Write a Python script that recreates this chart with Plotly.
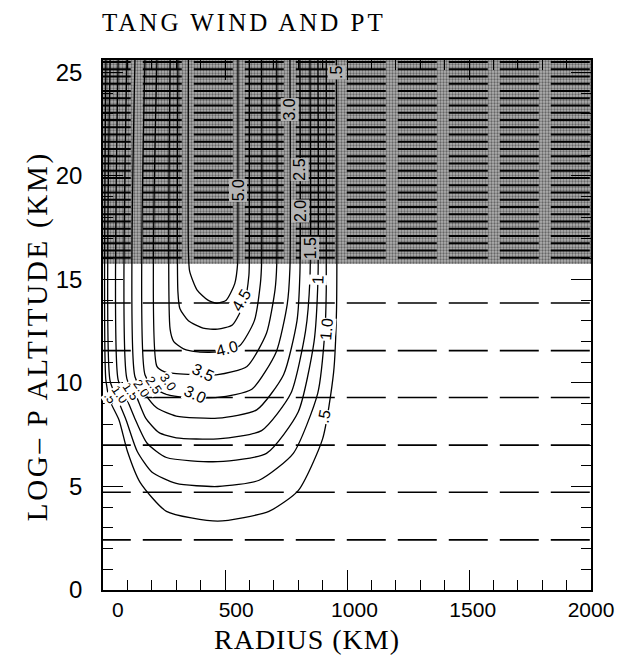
import plotly.graph_objects as go

# ---------------- data ----------------
TITLE = "TANG WIND AND PT"
X_TITLE = "RADIUS (KM)"
Y_TITLE = "LOG\u2013 P ALTITUDE (KM)"
X_TICKS = [0, 500, 1000, 1500, 2000]
Y_TICKS = [0, 5, 10, 15, 20, 25]
R_RANGE = [0, 2000]
R_LABEL_RANGE = [-63, 2000]   # tick labels sit slightly offset in the original
Z_RANGE = [0, 25.6]
TROPOPAUSE_KM = 15.75

# isentropes (potential temperature), heights in km
PT_TROPO = [2.42, 4.72, 7.0, 9.3, 11.56, 13.86]
PT_STRAT = [16.05, 16.4, 16.75, 17.1, 17.45, 17.8, 18.15, 18.5, 18.85, 19.2,
            19.55, 19.9, 20.25, 20.6, 20.95, 21.3, 21.65, 22.0, 22.35, 22.7,
            23.05, 23.4, 23.75, 24.1, 24.45, 24.8, 25.15, 25.5]

# tangential wind contours (radius km, altitude km), outer (0.5) to inner (5.0)
W05_R = [12, 12, 30, 66, 100, 152, 260, 470, 680, 800, 900, 945, 957, 957]
W05_Z = [25.6, 10.1, 9.1, 8.2, 6.7, 5.2, 3.8, 3.33, 3.8, 4.8, 7.3, 10.5, 13.5, 25.6]
W10_R = [29, 29, 60, 95, 140, 200, 300, 470, 640, 780, 880, 910, 915, 915]
W10_Z = [25.6, 10.1, 9.2, 8.2, 6.7, 5.7, 5.15, 5.0, 5.3, 6.6, 9.5, 12.6, 14.5, 25.6]
W15_R = [62, 62, 95, 130, 180, 260, 470, 670, 800, 865, 881, 881]
W15_Z = [25.6, 10.15, 9.3, 8.3, 7.1, 6.4, 6.2, 6.6, 8.6, 12.0, 15.0, 25.6]
W20_R = [98, 98, 135, 175, 230, 300, 470, 650, 770, 830, 848, 848]
W20_Z = [25.6, 10.2, 9.4, 8.3, 7.6, 7.35, 7.3, 7.7, 9.5, 12.5, 15.0, 25.6]
W25_R = [131, 131, 170, 220, 300, 470, 630, 740, 795, 807, 807]
W25_Z = [25.6, 10.3, 9.5, 8.8, 8.4, 8.3, 8.7, 10.4, 13.0, 15.3, 25.6]
W30_R = [172, 172, 210, 260, 340, 470, 610, 710, 755, 766, 766]
W30_Z = [25.6, 10.4, 9.75, 9.45, 9.3, 9.3, 9.7, 11.5, 13.8, 15.5, 25.6]
W35_R = [221, 221, 250, 300, 370, 470, 590, 670, 705, 712, 712]
W35_Z = [25.6, 10.8, 10.55, 10.45, 10.4, 10.4, 10.8, 12.4, 14.5, 15.7, 25.6]
W40_R = [275, 275, 290, 330, 390, 470, 560, 620, 645, 650, 650]
W40_Z = [25.6, 12.6, 12.0, 11.65, 11.5, 11.5, 11.8, 13.0, 14.8, 15.8, 25.6]
W45_R = [307, 307, 315, 350, 410, 470, 530, 580, 598, 600, 600]
W45_Z = [25.6, 14.4, 13.6, 13.0, 12.65, 12.6, 12.8, 13.9, 15.2, 16.2, 25.6]
W50_R = [350, 350, 355, 385, 430, 467, 505, 540, 552, 553, 553]
W50_Z = [25.6, 16.4, 15.4, 14.5, 14.0, 13.85, 14.0, 14.8, 15.8, 16.8, 25.6]

CONTOURS = [(W05_R, W05_Z), (W10_R, W10_Z), (W15_R, W15_Z), (W20_R, W20_Z),
            (W25_R, W25_Z), (W30_R, W30_Z), (W35_R, W35_Z), (W40_R, W40_Z),
            (W45_R, W45_Z), (W50_R, W50_Z)]

# contour labels: text, radius, altitude, angle
LBL_TEXT = ["5.0", "3.0", "2.5", "2.0", "1.5", ".5", "4.5", "4.0", "3.5",
            "3.0", "1.0", ".5", "1"]
LBL_R = [553, 766, 807, 807, 848, 957, 565, 510, 410, 378, 915, 905, 881]
LBL_Z = [19.3, 23.2, 20.3, 18.3, 16.5, 25.0, 14.0, 11.65, 10.5, 9.45, 12.6,
         8.4, 15.0]
LBL_ANG = [-90, -90, -90, -90, -90, -90, -60, -15, 25, 25, -85, -78, -88]

# crowded labels near the axis at ~9.5 km
CROWD_TEXT = [".5", "1.0", "1.5", "2.0", "2.5", "3.0"]
CROWD_R = [30, 70, 115, 160, 210, 265]
CROWD_Z = [9.3, 9.45, 9.6, 9.75, 9.9, 10.05]

# ---------------- figure ----------------
SERIF = "Liberation Serif, Times New Roman, serif"
SANS = "Liberation Sans, Arial, sans-serif"

fig = go.Figure()

# stratosphere shading
fig.add_trace(go.Scatter(
    x=[R_RANGE[0] - 10, R_RANGE[1] + 10, R_RANGE[1] + 10, R_RANGE[0] - 10],
    y=[TROPOPAUSE_KM, TROPOPAUSE_KM, Z_RANGE[1] + 1, Z_RANGE[1] + 1],
    fill="toself", mode="lines", line=dict(width=0),
    fillcolor="#a8a8a8",
    fillpattern=dict(shape=".", fgcolor="#1a1a1a", bgcolor="#b0b0b0",
                     size=3, solidity=0.45),
    hoverinfo="skip", showlegend=False))

# isentropes (dashed)
for z in PT_TROPO:
    fig.add_trace(go.Scatter(
        x=[-46, R_RANGE[1] + 20], y=[z, z], mode="lines",
        line=dict(color="black", width=1.6, dash="39px,12px"),
        hoverinfo="skip", showlegend=False))
for z in PT_STRAT:
    fig.add_trace(go.Scatter(
        x=[-46, R_RANGE[1] + 20], y=[z, z], mode="lines",
        line=dict(color="black", width=1.9, dash="39px,12px"),
        hoverinfo="skip", showlegend=False))

# wind contours
for r, z in CONTOURS:
    fig.add_trace(go.Scatter(
        x=r, y=z, mode="lines",
        line=dict(color="black", width=1.3, shape="spline", smoothing=0.6),
        hoverinfo="skip", showlegend=False))

for t, r, z, a in zip(LBL_TEXT, LBL_R, LBL_Z, LBL_ANG):
    bg = "#b4b4b4" if z > TROPOPAUSE_KM else "white"
    fig.add_annotation(x=r, y=z, text=t, textangle=a, showarrow=False,
                       font=dict(family=SANS, size=16, color="black"),
                       bgcolor=bg, borderpad=0)
for t, r, z in zip(CROWD_TEXT, CROWD_R, CROWD_Z):
    fig.add_annotation(x=r, y=z, text=t, textangle=55, showarrow=False,
                       font=dict(family=SANS, size=13, color="black"),
                       bgcolor="white", borderpad=0)

# title and axis titles
fig.add_annotation(xref="paper", yref="paper", x=-0.006, y=1.071,
                   xanchor="left", yanchor="middle",
                   text='<span style="letter-spacing:3px">' + TITLE + "</span>",
                   showarrow=False,
                   font=dict(family=SERIF, size=25, color="black"))
fig.add_annotation(xref="paper", yref="paper", x=0.418, y=-0.093,
                   xanchor="center", yanchor="middle",
                   text='<span style="letter-spacing:1px">' + X_TITLE + "</span>",
                   showarrow=False,
                   font=dict(family=SERIF, size=28, color="black"))
fig.add_annotation(xref="paper", yref="paper", x=-0.135, y=0.479,
                   xanchor="center", yanchor="middle",
                   text='<span style="letter-spacing:2.7px">' + Y_TITLE + "</span>",
                   textangle=-90, showarrow=False,
                   font=dict(family=SERIF, size=29, color="black"))

axis_common = dict(showgrid=False, zeroline=False, showline=True,
                   linecolor="black", linewidth=1.5, mirror="ticks",
                   ticks="inside", tickcolor="black", tickwidth=1.3,
                   ticklen=20)
fig.update_xaxes(range=R_RANGE, tickvals=X_TICKS, showticklabels=False,
                 minor=dict(dtick=100, ticks="inside", ticklen=10,
                            tickcolor="black", tickwidth=1.3),
                 **axis_common)
fig.update_yaxes(range=Z_RANGE, tickvals=Y_TICKS,
                 minor=dict(dtick=1, ticks="inside", ticklen=10,
                            tickcolor="black", tickwidth=1.3),
                 ticklabelstandoff=14,
                 tickfont=dict(family=SANS, size=24, color="black"),
                 **axis_common)

fig.update_layout(
    width=625, height=660,
    margin=dict(l=103, r=34, t=60, b=70),
    paper_bgcolor="white", plot_bgcolor="white", showlegend=False,
    xaxis2=dict(overlaying="x", anchor="y", side="bottom",
                range=R_LABEL_RANGE, tickvals=X_TICKS, ticks="",
                showline=False, showgrid=False, zeroline=False,
                ticklabelstandoff=5,
                tickfont=dict(family=SANS, size=21, color="black")))

# invisible trace so the label axis is drawn
fig.add_trace(go.Scatter(x=[X_TICKS[0]], y=[Y_TICKS[0]], xaxis="x2",
                         mode="markers", marker=dict(opacity=0),
                         hoverinfo="skip", showlegend=False))

fig.write_html("out.html")
